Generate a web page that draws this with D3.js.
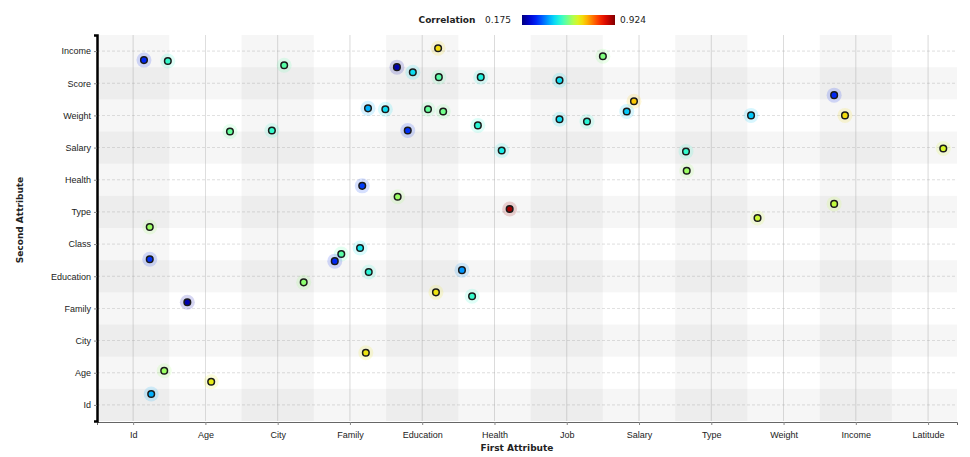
<!DOCTYPE html>
<html><head><meta charset="utf-8">
<script src="https://cdn.jsdelivr.net/npm/d3@7/dist/d3.min.js"></script>
<style>body{margin:0;background:#fff;font-family:"DejaVu Sans",sans-serif}</style>
</head><body><svg id="c" width="970" height="457"></svg>
<script>
const xCategories = ["Id","Age","City","Family","Education","Health","Job","Salary","Type","Weight","Income","Latitude"];
const yCategories = ["Id","Age","City","Family","Education","Class","Type","Health","Salary","Weight","Score","Income"];
const corrMin = 0.175, corrMax = 0.924;
// point positions in category units (index + jitter) and correlation value
const pointX = [0.15,0.48,2.09,3.65,4.22,3.87,4.23,4.81,5.90,6.50,9.70,6.93,6.83,8.55,9.85,3.25,3.49,4.08,4.29,5.90,6.28,4.77,3.80,1.34,1.92,5.10,7.65,11.21,7.66,3.17,3.66,5.21,8.64,9.70,0.23,0.23,3.14,2.88,2.79,3.26,4.55,2.36,4.19,4.69,0.75,3.22,0.43,1.08,0.25];
const pointY = [10.72,10.69,10.56,10.50,11.09,10.34,10.19,10.19,10.09,10.84,9.63,9.44,9.12,9.0,9.0,9.22,9.19,9.19,9.12,8.88,8.81,8.69,8.53,8.50,8.53,7.91,7.88,7.97,7.28,6.81,6.47,6.09,5.81,6.25,5.53,4.53,4.88,4.69,4.47,4.13,4.19,3.81,3.5,3.38,3.19,1.62,1.06,0.72,0.34];
const pointCorr = [0.29,0.49,0.52,0.21,0.66,0.44,0.52,0.47,0.44,0.55,0.29,0.68,0.42,0.42,0.66,0.40,0.44,0.53,0.54,0.44,0.48,0.48,0.30,0.53,0.49,0.46,0.49,0.62,0.57,0.31,0.57,0.90,0.61,0.60,0.57,0.30,0.45,0.52,0.29,0.48,0.38,0.56,0.65,0.49,0.21,0.65,0.57,0.64,0.40];

const svg = d3.select("#c");
const L = 97, R = 957, T = 35, B = 421;
const x = d3.scaleLinear().domain([-0.5, 11.4]).range([L, R]);
const y = d3.scaleLinear().domain([-0.5, 11.5]).range([B, T]);
const jet = ["#00007f","#0000ff","#007fff","#00ffff","#7fff7f","#ffff00","#ff7f00","#ff0000","#7f0000"];
const color = d3.scaleSequential(d3.interpolateRgbBasis(jet)).domain([corrMin, corrMax]);

// background bands
const g = svg.append("g");
xCategories.forEach((c,i)=>{ if(i%2===0){ const x0=Math.max(L,x(i-0.5)), x1=Math.min(R,x(i+0.5));
  g.append("rect").attr("x",x0).attr("y",T).attr("width",x1-x0).attr("height",B-T).attr("fill","#000").attr("opacity",0.035);} });
yCategories.forEach((c,i)=>{ if(i%2===0){ g.append("rect").attr("x",L).attr("y",y(i+0.5)).attr("width",R-L).attr("height",y(i-0.5)-y(i+0.5)).attr("fill","#000").attr("opacity",0.035);} });

// grid
xCategories.forEach((c,i)=>g.append("line").attr("x1",x(i)).attr("x2",x(i)).attr("y1",T).attr("y2",B).attr("stroke","#999").attr("stroke-width",0.8).attr("opacity",0.45));
yCategories.forEach((c,i)=>g.append("line").attr("x1",L).attr("x2",R).attr("y1",y(i)).attr("y2",y(i)).attr("stroke","#999").attr("stroke-width",0.8).attr("stroke-dasharray","3,2").attr("opacity",0.4));

// axes
const xAxis = d3.axisBottom(x).tickValues(d3.range(xCategories.length)).tickFormat(i=>xCategories[i]).tickSize(3);
const yAxis = d3.axisLeft(y).tickValues(d3.range(yCategories.length)).tickFormat(i=>yCategories[i]).tickSize(3);
const gx = svg.append("g").attr("transform",`translate(0,${B+1})`).call(xAxis);
gx.select(".domain").attr("stroke","#666");
gx.selectAll("text").attr("font-size",9).attr("fill","#222").attr("dy","1.1em");
gx.selectAll(".tick line").attr("stroke","#888");
const gy = svg.append("g").attr("transform",`translate(${L},0)`).call(yAxis);
gy.select(".domain").attr("stroke","#000").attr("stroke-width",2.5);
gy.selectAll("text").attr("font-size",9).attr("fill","#222");
gy.selectAll(".tick line").attr("stroke","#888");

// points
const pts = svg.append("g");
pointX.forEach((px,i)=>{
  const cx=x(px), cy=y(pointY[i]), col=color(pointCorr[i]);
  pts.append("circle").attr("cx",cx).attr("cy",cy).attr("r",7.5).attr("fill",col).attr("opacity",0.16);
  pts.append("circle").attr("cx",cx).attr("cy",cy).attr("r",3.3).attr("fill",col).attr("stroke","#1a1a1a").attr("stroke-width",1.5);
});

// axis titles
svg.append("text").attr("x",517).attr("y",451).attr("text-anchor","middle").attr("font-size",9).attr("font-weight","bold").attr("fill","#222").text("First Attribute");
svg.append("text").attr("transform","translate(23,220) rotate(-90)").attr("text-anchor","middle").attr("font-size",9).attr("font-weight","bold").attr("fill","#222").text("Second Attribute");

// legend
const defs = svg.append("defs");
const lg = defs.append("linearGradient").attr("id","lg");
d3.range(0,1.0001,0.05).forEach(t=>lg.append("stop").attr("offset",t).attr("stop-color",color(corrMin+t*(corrMax-corrMin))));
svg.append("text").attr("x",447).attr("y",23).attr("text-anchor","middle").attr("font-size",9).attr("font-weight","bold").attr("fill","#222").text("Correlation");
svg.append("text").attr("x",498).attr("y",23).attr("text-anchor","middle").attr("font-size",9).attr("fill","#222").text(d3.format(".3f")(corrMin));
svg.append("rect").attr("x",522).attr("y",15).attr("width",93).attr("height",10).attr("fill","url(#lg)");
svg.append("text").attr("x",633).attr("y",23).attr("text-anchor","middle").attr("font-size",9).attr("fill","#222").text(d3.format(".3f")(corrMax));
</script></body></html>
